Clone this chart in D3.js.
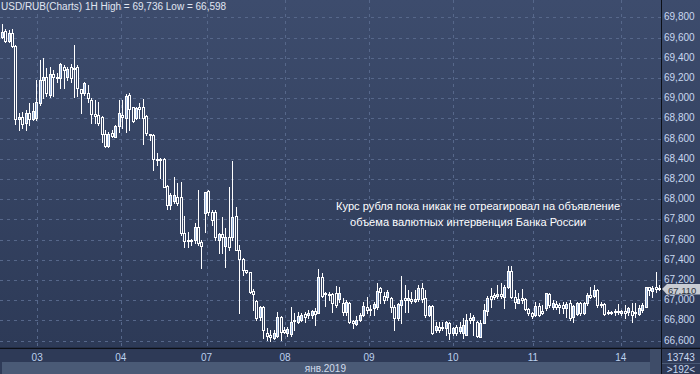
<!DOCTYPE html>
<html><head><meta charset="utf-8">
<script src="https://cdn.jsdelivr.net/npm/d3@7"></script>
<style>
html,body{margin:0;padding:0;background:#2f3b58;}
svg{display:block;font-family:"Liberation Sans",Arial,sans-serif;}
</style>
</head><body>
<svg id="c" width="700" height="374"></svg>
<script>
// ---- data (USD/RUB, 1H candles) ----
const open=[
69.602,69.664,69.570,69.640,69.520,68.790,68.810,68.755,68.850,68.790,
68.800,68.950,69.180,69.210,69.030,69.240,69.210,69.200,69.310,69.210,
69.310,69.290,69.310,69.090,69.050,69.050,68.980,68.840,68.830,68.810,
68.646,68.530,68.660,68.620,68.720,68.834,68.800,69.030,68.910,68.800,
68.910,68.915,68.820,68.646,68.636,68.400,68.390,68.395,68.135,67.940,
67.980,68.020,68.020,67.664,67.597,67.590,67.597,67.723,67.580,67.861,
68.085,67.877,67.877,67.597,67.654,67.538,67.624,67.630,67.835,67.498,
67.410,67.300,67.284,67.090,66.997,66.830,66.937,66.674,66.657,66.625,
66.648,66.833,66.707,66.674,66.667,66.790,66.789,66.800,66.865,66.855,
66.855,66.898,66.878,67.228,67.076,67.063,67.063,67.070,67.010,66.977,
66.888,66.977,66.796,66.766,66.806,66.855,66.937,66.912,66.921,66.931,
67.119,67.043,67.036,67.020,66.931,66.823,66.954,67.020,67.004,67.010,
66.997,67.010,67.119,67.020,66.855,66.944,66.707,66.740,66.724,66.724,
66.773,66.681,66.740,66.700,66.674,66.657,66.823,66.806,66.789,66.641,
66.779,66.898,67.043,67.053,67.043,67.060,67.036,67.129,67.293,67.036,
66.977,67.020,67.010,66.911,66.872,66.855,66.944,66.898,66.921,67.060,
66.937,66.964,66.954,66.954,66.921,66.971,66.832,66.865,66.977,66.878,
66.971,67.053,67.043,67.102,66.964,66.964,66.888,66.872,66.888,66.895,
66.872,66.898,66.888,66.898,66.888,66.865,66.905,66.937,67.129,67.096,
67.129,67.119];
const high=[
69.736,69.680,69.670,69.680,69.530,68.850,68.860,68.880,68.950,68.950,
69.180,69.380,69.395,69.300,69.310,69.280,69.250,69.350,69.330,69.310,
69.340,69.530,69.330,69.090,69.160,69.130,69.000,68.980,68.965,68.820,
68.685,68.670,68.685,68.735,68.980,68.980,69.040,69.050,68.915,68.915,
68.950,68.990,68.834,68.646,68.646,68.455,68.410,68.405,68.141,68.060,
68.220,68.160,68.175,67.834,67.679,67.604,67.768,68.092,67.597,68.075,
68.092,67.894,67.894,67.664,67.822,67.713,68.124,68.382,67.927,67.548,
67.420,67.300,67.284,67.110,67.004,66.944,66.944,66.724,66.707,66.707,
66.888,66.840,66.739,66.739,66.931,66.872,66.888,66.870,66.888,66.905,
66.905,66.921,67.307,67.268,67.086,67.086,67.076,67.142,67.135,67.020,
67.004,66.987,66.806,66.845,66.872,66.987,67.030,66.954,66.987,67.175,
67.135,67.086,67.102,67.030,66.954,66.971,67.241,67.152,67.102,67.086,
67.102,67.152,67.175,67.102,66.954,66.954,66.789,66.789,66.789,66.799,
66.789,66.740,66.756,66.789,66.822,66.865,66.878,66.855,66.799,66.806,
66.964,67.043,67.119,67.070,67.152,67.169,67.152,67.340,67.340,67.102,
67.070,67.109,67.020,66.921,66.888,66.987,66.971,66.954,67.076,67.070,
67.004,66.997,66.971,66.987,66.987,67.004,66.954,66.987,66.987,66.987,
67.070,67.135,67.152,67.109,66.987,66.971,66.905,66.898,66.911,66.964,
66.905,66.954,66.937,66.971,66.971,66.954,66.971,67.135,67.135,67.142,
67.284,67.152];
const low=[
69.595,69.560,69.560,69.510,68.745,68.685,68.705,68.685,68.735,68.780,
68.780,68.930,69.000,69.020,69.010,69.020,69.160,69.100,69.100,69.180,
69.160,69.010,69.020,68.850,69.030,68.965,68.755,68.755,68.735,68.563,
68.520,68.520,68.615,68.615,68.670,68.700,68.670,68.685,68.760,68.790,
68.800,68.550,68.635,68.586,68.290,68.340,68.210,68.125,67.904,67.900,
67.960,67.943,67.647,67.531,67.531,67.548,67.565,67.548,67.317,67.679,
67.844,67.745,67.597,67.466,67.466,67.333,67.498,67.597,67.498,66.872,
67.250,67.270,67.070,66.900,66.806,66.806,66.625,66.608,66.598,66.615,
66.641,66.608,66.674,66.648,66.648,66.707,66.773,66.790,66.789,66.823,
66.823,66.756,66.872,67.036,66.944,67.000,66.888,66.937,66.987,66.855,
66.855,66.779,66.724,66.756,66.799,66.840,66.878,66.855,66.855,66.911,
66.971,66.971,67.004,66.888,66.707,66.806,66.773,66.888,66.888,66.977,
66.987,66.997,66.987,66.839,66.845,66.667,66.690,66.690,66.707,66.657,
66.615,66.657,66.657,66.674,66.625,66.657,66.773,66.657,66.641,66.635,
66.779,66.855,66.937,67.010,67.020,67.020,66.921,67.119,67.020,66.921,
66.971,66.971,66.905,66.855,66.823,66.845,66.845,66.865,66.905,66.937,
66.911,66.911,66.872,66.872,66.839,66.806,66.789,66.855,66.855,66.865,
66.954,67.020,67.036,66.937,66.937,66.855,66.865,66.865,66.855,66.865,
66.855,66.823,66.855,66.789,66.839,66.855,66.888,66.931,67.053,67.036,
67.086,67.102];
const close=[
69.657,69.568,69.640,69.520,68.790,68.810,68.745,68.854,68.790,68.870,
68.965,69.180,69.210,69.050,69.240,69.210,69.200,69.340,69.280,69.290,
69.200,69.300,69.100,69.050,69.150,69.000,68.840,68.820,68.755,68.646,
68.527,68.646,68.630,68.725,68.856,68.810,69.020,68.890,68.770,68.900,
68.890,68.800,68.660,68.636,68.395,68.390,68.400,68.125,67.940,68.040,
68.040,67.960,67.664,67.587,67.590,67.600,67.723,67.570,67.538,68.069,
67.877,67.795,67.624,67.654,67.630,67.624,67.531,67.828,67.498,67.406,
67.300,67.280,67.086,67.060,66.823,66.937,66.707,66.648,66.635,66.674,
66.833,66.690,66.690,66.714,66.789,66.800,66.848,66.855,66.838,66.878,
66.898,66.865,67.228,67.043,67.063,67.053,66.971,66.954,67.070,66.888,
66.987,66.789,66.773,66.806,66.855,66.944,66.905,66.905,66.964,67.096,
67.086,67.004,67.086,66.937,66.823,66.964,67.004,67.004,67.020,66.997,
67.010,67.119,67.010,66.855,66.944,66.674,66.747,66.707,66.740,66.789,
66.674,66.724,66.681,66.740,66.756,66.806,66.806,66.839,66.648,66.779,
66.905,67.020,67.010,67.030,67.060,67.043,67.135,67.293,67.036,66.987,
67.010,67.004,66.911,66.872,66.845,66.944,66.855,66.878,67.070,66.954,
66.977,66.931,66.931,66.921,66.964,66.823,66.944,66.977,66.878,66.977,
67.053,67.036,67.102,66.954,66.954,66.865,66.872,66.888,66.895,66.880,
66.895,66.872,66.921,66.855,66.872,66.921,66.954,67.129,67.102,67.119,
67.109,67.110];

const yTicks=[66.6,66.8,67.0,67.2,67.4,67.6,67.8,68.0,68.2,68.4,68.6,68.8,69.0,69.2,69.4,69.6,69.8];
const dayLabels=["03","04","07","08","09","10","11","14"];
const dayStart=[10.3,34.6,59.5,82.3,106.7,131.1,154.3,179.8]; // in bar units
const symbol="USD/RUB(Charts) 1H";
const monthLabel="янв.2019";
const noteLines=["Курс рубля пока никак не отреагировал на объявление","объема валютных интервенция Банка России"];
const volumeText="13743";
const barsText=">192<";

// ---- drawing ----
const W=700,H=374, plotR=661, plotB=348;
const svg=d3.select("#c");
const fmt=d3.formatLocale({decimal:",",thousands:" ",grouping:[3],currency:["",""]}).format(".3f");
const n=close.length;
const x=d3.scaleLinear().domain([-0.5,n-0.5]).range([0,plotR]);
const y=d3.scaleLinear().domain([66.6,69.8]).range([340.7,17.3]);

const defs=svg.append("defs");
const g1=defs.append("linearGradient").attr("id","bg").attr("x1",0).attr("y1",0).attr("x2",0).attr("y2",1);
g1.append("stop").attr("offset","0%").attr("stop-color","#3d4c6d");
g1.append("stop").attr("offset","100%").attr("stop-color","#2d3a57");

svg.append("rect").attr("width",W).attr("height",H).attr("fill","#2f3b58");
svg.append("rect").attr("x",0).attr("y",0).attr("width",plotR).attr("height",plotB).attr("fill","url(#bg)");
svg.append("rect").attr("x",plotR).attr("y",0).attr("width",W-plotR).attr("height",plotB).attr("fill","url(#bg)");

// grid
const grid=svg.append("g").attr("stroke","#56678a").attr("stroke-width",1).attr("stroke-dasharray","3,4");
grid.selectAll("line.h").data(yTicks).join("line").attr("class","h")
  .attr("x1",0).attr("x2",plotR).attr("y1",d=>Math.round(y(d))+0.5).attr("y2",d=>Math.round(y(d))+0.5);
grid.selectAll("line.v").data(dayStart).join("line").attr("class","v")
  .attr("x1",d=>Math.round(x(d))+0.5).attr("x2",d=>Math.round(x(d))+0.5).attr("y1",0).attr("y2",plotB);

// candles
const idx=d3.range(n);
const cg=svg.append("g");
const cx=i=>Math.round(x(i))-1;
cg.selectAll("line.w").data(idx).join("line").attr("class","w")
  .attr("x1",i=>cx(i)+1.5).attr("x2",i=>cx(i)+1.5)
  .attr("y1",i=>Math.round(y(high[i]))).attr("y2",i=>Math.round(y(low[i]))+1)
  .attr("stroke","#ffffff").attr("stroke-width",1);
cg.selectAll("rect.b").data(idx).join("rect").attr("class","b")
  .attr("x",i=>cx(i)+0.5).attr("width",2)
  .attr("y",i=>Math.round(y(Math.max(open[i],close[i])))+0.5)
  .attr("height",i=>Math.max(1,Math.round(y(Math.min(open[i],close[i])))-Math.round(y(Math.max(open[i],close[i])))))
  .attr("fill",i=>close[i]>open[i]?"#9fbae2":"#33415f")
  .attr("stroke","#ffffff").attr("stroke-width",1);

// axes frame
svg.append("line").attr("x1",plotR+0.5).attr("x2",plotR+0.5).attr("y1",0).attr("y2",H).attr("stroke","#0c0f16").attr("stroke-width",1);
svg.append("line").attr("x1",0).attr("x2",W).attr("y1",plotB+0.5).attr("y2",plotB+0.5).attr("stroke","#0c0f16").attr("stroke-width",1.5);

// y labels
svg.append("g").selectAll("text").data(yTicks).join("text")
  .attr("x",664).attr("y",d=>y(d)+3).attr("font-size",10).attr("fill","#c9d8f0")
  .text(d=>fmt(d));

// bottom bands
svg.append("rect").attr("x",0).attr("y",plotB+1).attr("width",plotR).attr("height",13).attr("fill","#2e3a57");
svg.append("rect").attr("x",2).attr("y",362).attr("width",plotR-2).attr("height",12).attr("fill","#4a5a76");
svg.append("rect").attr("x",650).attr("y",plotB+1).attr("width",11).attr("height",H-plotB-1).attr("fill","#3e4c68");
svg.append("g").selectAll("text").data(dayLabels).join("text")
  .attr("x",(d,i)=>x(dayStart[i])).attr("y",361).attr("text-anchor","middle")
  .attr("font-size",10).attr("fill","#bcd0ee").text(d=>d);
svg.append("text").attr("x",346).attr("y",372).attr("text-anchor","end").attr("font-size",10)
  .attr("fill","#d2dcec").text(monthLabel);

// right bottom panel
svg.append("rect").attr("x",plotR+1).attr("y",plotB+1).attr("width",W-plotR-1).attr("height",H-plotB-1).attr("fill","#2e3a57");
svg.append("line").attr("x1",plotR+1).attr("x2",W).attr("y1",363.5).attr("y2",363.5).attr("stroke","#4a5a76");
svg.append("text").attr("x",681).attr("y",361).attr("text-anchor","middle").attr("font-size",10).attr("fill","#c9d8f0").text(volumeText);
svg.append("text").attr("x",681).attr("y",373).attr("text-anchor","middle").attr("font-size",10).attr("fill","#c9d8f0").text(barsText);

// last price tag
const last=close[n-1], ly=Math.round(y(last));
svg.append("path").attr("d",`M662,${ly} L667,${ly-5} L700,${ly-5} L700,${ly+5.5} L667,${ly+5.5} Z`)
  .attr("fill","#c8ccd3");
svg.append("text").attr("x",668).attr("y",ly+4.5).attr("font-size",9.5).attr("fill","#2f3540").text(fmt(last));

// title
svg.append("text").attr("x",1).attr("y",10).attr("font-size",10).attr("fill","#e0e6f2")
  .text(`${symbol} High = ${fmt(d3.max(high))} Low = ${fmt(d3.min(low))}`);

// annotation
svg.append("text").attr("x",336).attr("y",210).attr("font-size",11.1).attr("fill","#ffffff").text(noteLines[0]);
svg.append("text").attr("x",350).attr("y",226).attr("font-size",11.1).attr("fill","#ffffff").text(noteLines[1]);
</script>
</body></html>
